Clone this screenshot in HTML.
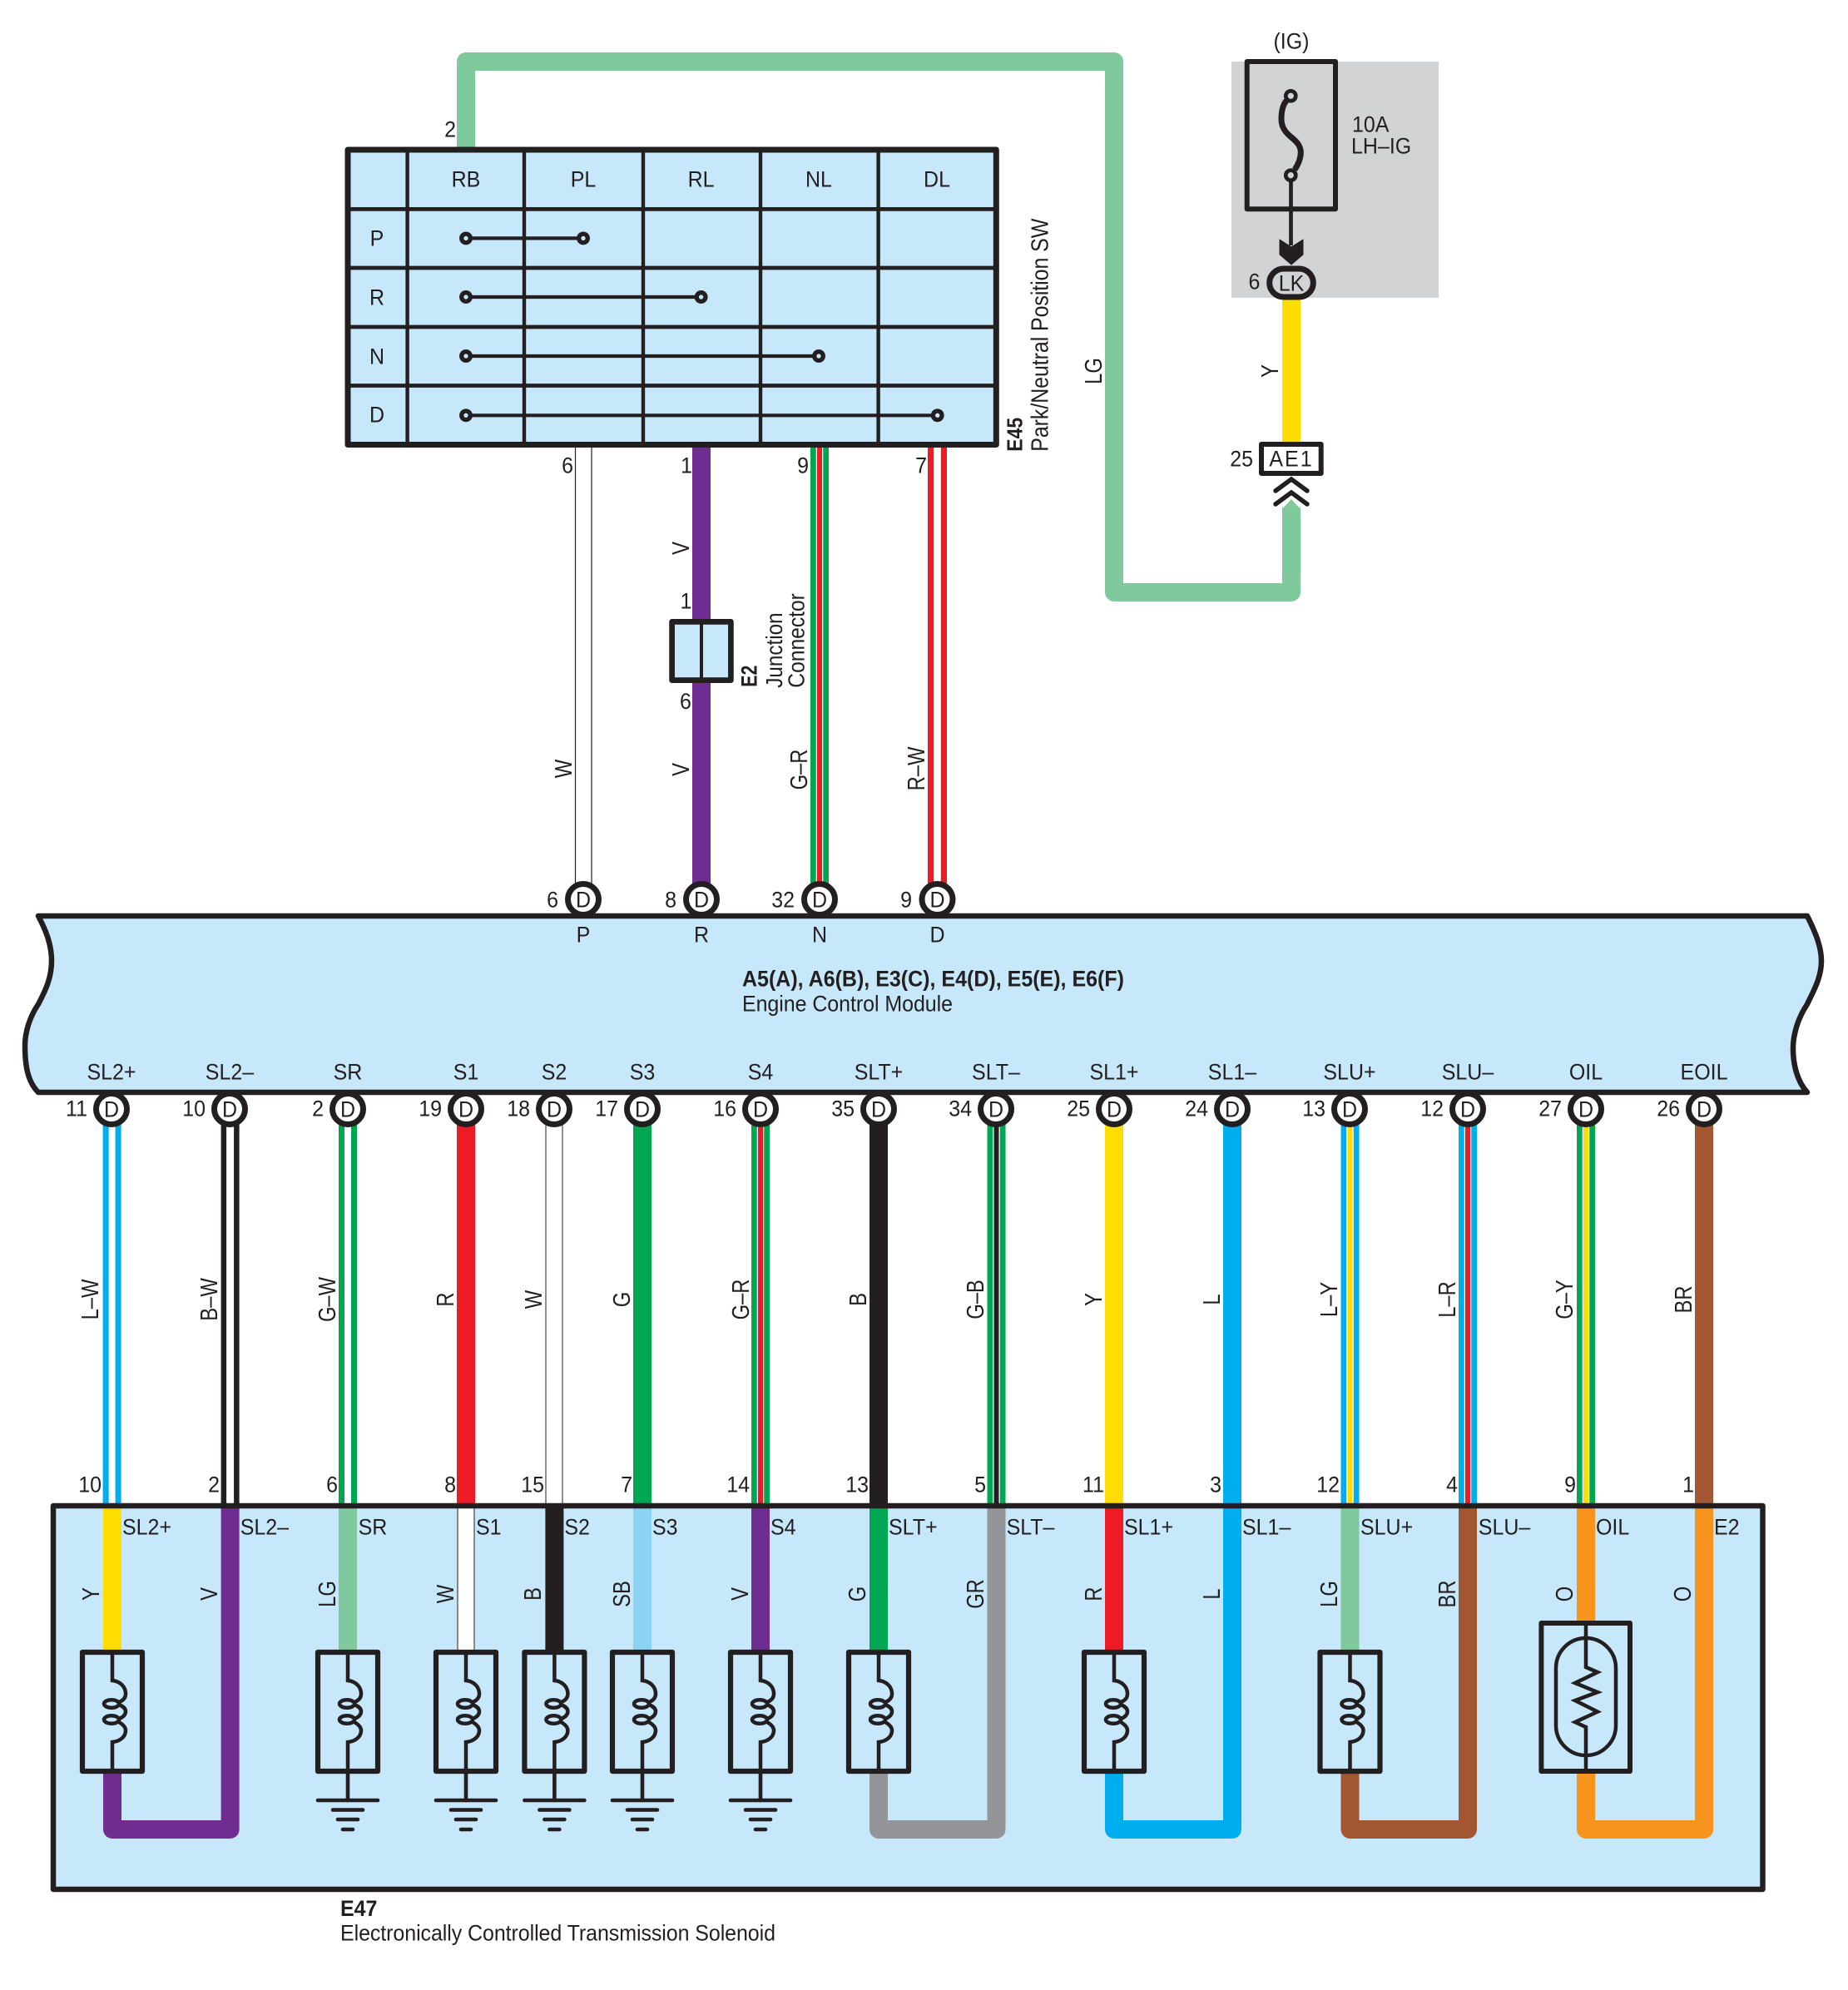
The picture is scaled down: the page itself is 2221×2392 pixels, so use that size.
<!DOCTYPE html>
<html><head><meta charset="utf-8"><style>
html,body{margin:0;padding:0;background:#fff}
svg{display:block}
text{font-family:"Liberation Sans",sans-serif;font-size:25px;fill:#231f20}
text:not([transform]){transform-box:fill-box;transform-origin:50% 50%;transform:scaleY(1.07)}
.m{text-anchor:middle}.e{text-anchor:end}.b{font-weight:bold}
.k{fill:none;stroke:#231f20}
</style></head><body>
<svg xmlns="http://www.w3.org/2000/svg" width="2221" height="2392" viewBox="0 0 2221 2392">
<defs>
<path id="mw" d="M0 1350V1810"/>
<g id="sol">
<rect x="-36" y="0" width="72" height="143" fill="#c7e7fa" stroke="#231f20" stroke-width="6.2" stroke-linejoin="round"/>
<g fill="none" stroke="#231f20" stroke-width="4.5">
<path d="M0 0V34C10 35 16 42 16 50C16 55 13 58 8 60"/>
<ellipse cx="-1" cy="62" rx="9" ry="4.7"/>
<path d="M8 63C13 65 16 68 16 71C16 75 13 78 8 80"/>
<ellipse cx="-1" cy="81" rx="9" ry="4.7"/>
<path d="M8 84C13 87 16 90 16 94C16 101 10 107 0 108V143"/>
</g></g>
<g id="gnd" fill="none" stroke="#231f20" stroke-width="4.6" stroke-linecap="round">
<path d="M0 0V32"/><path d="M-36 32H36"/><path d="M-18 43.5H18"/><path d="M-12 55H12"/><path d="M-6 67H6"/>
</g>
<g id="cir"><circle cx="0" cy="0" r="18.5" fill="#fff" stroke="#231f20" stroke-width="7"/><text class="m" y="9">D</text></g>
<g id="dot"><circle r="5.3" fill="#c7e7fa" stroke="#231f20" stroke-width="5.3"/></g>
</defs>

<!-- LG top wire -->
<path d="M560 180V74H1339V712H1552V610" fill="none" stroke="#80c99c" stroke-width="22" stroke-linejoin="round"/>
<polygon points="1541,612 1552,600 1563,612" fill="#80c99c"/>

<!-- fuse block -->
<rect x="1480" y="74" width="249" height="284" fill="#d1d3d4"/>
<rect x="1498.7" y="74" width="106.3" height="177.3" fill="none" stroke="#231f20" stroke-width="6" stroke-linejoin="round"/>
<path d="M1546 121C1541 127 1540 135 1540 143C1540 154 1546 160 1552 165C1558 170 1563.3 175 1563.3 183C1563.3 191 1560 198 1556 204" class="k" stroke-width="7"/>
<circle cx="1551.3" cy="115.3" r="6" fill="#d1d3d4" stroke="#231f20" stroke-width="4.7"/>
<circle cx="1551.3" cy="210.7" r="6" fill="#d1d3d4" stroke="#231f20" stroke-width="4.7"/>
<path d="M1551.5 216V295" class="k" stroke-width="4.7"/>
<polygon points="1538,288 1552,297 1566,288 1566,306 1552,318 1538,306" fill="#231f20" stroke="#231f20" stroke-width="1" stroke-linejoin="round"/>
<rect x="1541" y="358" width="22" height="176" fill="#ffdd00"/>
<rect x="1525.7" y="323" width="52.6" height="34" rx="17" ry="17" fill="#d1d3d4" stroke="#231f20" stroke-width="7"/>
<text class="m" x="1552" y="349">LK</text>
<rect x="1516" y="534" width="71.7" height="35" fill="#fff" stroke="#231f20" stroke-width="6" stroke-linejoin="round"/>
<text class="m" x="1552" y="560" letter-spacing="2">AE1</text>
<path d="M1533 590L1552 576L1571 590" fill="none" stroke="#231f20" stroke-width="5.5" stroke-linecap="round"/>
<path d="M1533 606L1552 592L1571 606" fill="none" stroke="#231f20" stroke-width="5.5" stroke-linecap="round"/>
<text class="m" x="1552" y="58">(IG)</text>
<text x="1625" y="158">10A</text>
<text x="1624" y="184">LH–IG</text>
<text class="m" x="1507.5" y="347">6</text>
<text class="e" x="1506" y="560">25</text>
<text class="m" transform="translate(1314,446) rotate(-90) scale(.95,1.13)" y="9">LG</text>
<text class="m" transform="translate(1526,446) rotate(-90) scale(.95,1.13)" y="9">Y</text>

<!-- wires table to ECU -->
<path d="M691.5 537V1062M711 537V1062" fill="none" stroke="#231f20" stroke-width="1.2"/>
<path d="M843 537V1062" fill="none" stroke="#6f2c91" stroke-width="22"/>
<path d="M985 537V1062" fill="none" stroke="#00a651" stroke-width="22"/>
<path d="M985 537V1062" fill="none" stroke="#fff" stroke-width="8.5"/>
<path d="M985 537V1062" fill="none" stroke="#ed1c24" stroke-width="6"/>
<path d="M1126.5 537V1062" fill="none" stroke="#ed1c24" stroke-width="23"/>
<path d="M1126.5 537V1062" fill="none" stroke="#fff" stroke-width="8.6"/>

<!-- shift table -->
<rect x="418" y="180" width="779.3" height="354.5" fill="#c7e7fa"/>
<path d="M418 251.4H1197M418 322H1197M418 393H1197M418 463.5H1197" class="k" stroke-width="4.8"/>
<path d="M489.6 180V534M630 180V534M773 180V534M914 180V534M1055.6 180V534" class="k" stroke-width="4.4"/>
<rect x="418" y="180" width="779.3" height="354.5" class="k" stroke-width="7" stroke-linejoin="round"/>
<path d="M560 286.4H701M560 357H842.6M560 428H984M560 499.3H1126.7" class="k" stroke-width="4.2"/>
<use href="#dot" x="560" y="286.4"/><use href="#dot" x="701" y="286.4"/>
<use href="#dot" x="560" y="357"/><use href="#dot" x="842.6" y="357"/>
<use href="#dot" x="560" y="428"/><use href="#dot" x="984" y="428"/>
<use href="#dot" x="560" y="499.3"/><use href="#dot" x="1126.7" y="499.3"/>
<text class="m" x="560" y="224">RB</text><text class="m" x="701" y="224">PL</text><text class="m" x="842.6" y="224">RL</text><text class="m" x="984" y="224">NL</text><text class="m" x="1126" y="224">DL</text>
<text class="m" x="453" y="295">P</text><text class="m" x="453" y="366">R</text><text class="m" x="453" y="437">N</text><text class="m" x="453" y="507">D</text>
<text class="e" x="548" y="164">2</text>
<text class="e" x="689" y="568">6</text><text class="e" x="832" y="568">1</text><text class="e" x="972" y="568">9</text><text class="e" x="1114" y="568">7</text>
<text class="b" transform="translate(1228.3,542.7) rotate(-90) scale(.92,1.05)">E45</text>
<text transform="translate(1259.3,542.7) rotate(-90) scale(1,1.13)" textLength="280">Park/Neutral Position SW</text>

<!-- E2 junction -->
<rect x="807.6" y="747.4" width="70.8" height="70.2" fill="#c7e7fa" stroke="#231f20" stroke-width="6.7" stroke-linejoin="round"/>
<path d="M843 747V817" class="k" stroke-width="4"/>
<text class="m" x="824.5" y="731">1</text><text class="m" x="824" y="851.5">6</text>
<text class="b" transform="translate(909.3,825.7) rotate(-90) scale(.85,1.06)">E2</text>
<text transform="translate(940,826.7) rotate(-90) scale(.97,1.12)">Junction</text>
<text transform="translate(966.7,826.7) rotate(-90) scale(.985,1.12)">Connector</text>
<text class="m" transform="translate(818,659) rotate(-90) scale(.95,1.13)" y="9">V</text>
<text class="m" transform="translate(818,925) rotate(-90) scale(.95,1.13)" y="9">V</text>
<text class="m" transform="translate(677,924) rotate(-90) scale(.95,1.13)" y="9">W</text>
<text class="m" transform="translate(960,925) rotate(-90) scale(.95,1.13)" y="9">G–R</text>
<text class="m" transform="translate(1101,924) rotate(-90) scale(.95,1.13)" y="9">R–W</text>

<!-- ECU -->
<path d="M46 1101H2172C2184 1125 2189 1140 2189 1155C2189 1175 2180 1190 2172 1207C2160 1225 2155 1245 2155 1260C2155 1280 2160 1300 2172 1313H46C33 1300 30 1280 30 1257C30 1240 36 1222 46 1207C55 1190 62 1175 62 1155C62 1135 55 1118 46 1101Z" fill="#c7e7fa" stroke="#231f20" stroke-width="6.5" stroke-linejoin="round"/>
<use href="#cir" x="701" y="1081"/><use href="#cir" x="843" y="1081"/><use href="#cir" x="985" y="1081"/><use href="#cir" x="1126.5" y="1081"/>
<text class="e" x="671" y="1090">6</text><text class="e" x="813" y="1090">8</text><text class="e" x="955" y="1090">32</text><text class="e" x="1096" y="1090">9</text>
<text class="m" x="701" y="1132">P</text><text class="m" x="843" y="1132">R</text><text class="m" x="985" y="1132">N</text><text class="m" x="1126.5" y="1132">D</text>
<text class="b" x="892" y="1185" textLength="459">A5(A), A6(B), E3(C), E4(D), E5(E), E6(F)</text>
<text x="892" y="1215" textLength="253">Engine Control Module</text>
<g>
<text class="m" x="134" y="1297">SL2+</text><text class="m" x="276" y="1297">SL2–</text><text class="m" x="418" y="1297">SR</text><text class="m" x="560" y="1297">S1</text><text class="m" x="666" y="1297">S2</text><text class="m" x="772" y="1297">S3</text><text class="m" x="914" y="1297">S4</text><text class="m" x="1056" y="1297">SLT+</text><text class="m" x="1197" y="1297">SLT–</text><text class="m" x="1339" y="1297">SL1+</text><text class="m" x="1481" y="1297">SL1–</text><text class="m" x="1622" y="1297">SLU+</text><text class="m" x="1764" y="1297">SLU–</text><text class="m" x="1906" y="1297">OIL</text><text class="m" x="2048" y="1297">EOIL</text>
</g>

<!-- middle wires -->
<g fill="none">
<use href="#mw" x="134.6" stroke="#00aeef" stroke-width="22"/><use href="#mw" x="134.6" stroke="#fff" stroke-width="8"/>
<use href="#mw" x="276.6" stroke="#231f20" stroke-width="22"/><use href="#mw" x="276.6" stroke="#fff" stroke-width="9"/>
<use href="#mw" x="418" stroke="#00a651" stroke-width="22"/><use href="#mw" x="418" stroke="#fff" stroke-width="8"/>
<use href="#mw" x="560" stroke="#ed1c24" stroke-width="22"/>
<use href="#mw" x="666" stroke="#231f20" stroke-width="21"/><use href="#mw" x="666" stroke="#fff" stroke-width="19"/>
<use href="#mw" x="772" stroke="#00a651" stroke-width="22"/>
<use href="#mw" x="914" stroke="#00a651" stroke-width="22"/><use href="#mw" x="914" stroke="#fff" stroke-width="8.5"/><use href="#mw" x="914" stroke="#ed1c24" stroke-width="6"/>
<use href="#mw" x="1056" stroke="#231f20" stroke-width="22"/>
<use href="#mw" x="1197.5" stroke="#00a651" stroke-width="22"/><use href="#mw" x="1197.5" stroke="#fff" stroke-width="8.5"/><use href="#mw" x="1197.5" stroke="#231f20" stroke-width="6"/>
<use href="#mw" x="1339" stroke="#ffdd00" stroke-width="22"/>
<use href="#mw" x="1481" stroke="#00aeef" stroke-width="22"/>
<use href="#mw" x="1622.5" stroke="#00aeef" stroke-width="22"/><use href="#mw" x="1622.5" stroke="#fff" stroke-width="8.5"/><use href="#mw" x="1622.5" stroke="#ffdd00" stroke-width="6"/>
<use href="#mw" x="1764" stroke="#00aeef" stroke-width="22"/><use href="#mw" x="1764" stroke="#fff" stroke-width="8.5"/><use href="#mw" x="1764" stroke="#ed1c24" stroke-width="6"/>
<use href="#mw" x="1906" stroke="#00a651" stroke-width="22"/><use href="#mw" x="1906" stroke="#fff" stroke-width="8.5"/><use href="#mw" x="1906" stroke="#ffdd00" stroke-width="6"/>
<use href="#mw" x="2048" stroke="#a35632" stroke-width="22"/>
</g>

<!-- bottom ECU connectors -->
<use href="#cir" x="134" y="1333"/><use href="#cir" x="276" y="1333"/><use href="#cir" x="418" y="1333"/><use href="#cir" x="560" y="1333"/><use href="#cir" x="666" y="1333"/><use href="#cir" x="772" y="1333"/><use href="#cir" x="914" y="1333"/><use href="#cir" x="1056" y="1333"/><use href="#cir" x="1197" y="1333"/><use href="#cir" x="1339" y="1333"/><use href="#cir" x="1481" y="1333"/><use href="#cir" x="1622" y="1333"/><use href="#cir" x="1764" y="1333"/><use href="#cir" x="1906" y="1333"/><use href="#cir" x="2048" y="1333"/>
<text class="e" x="105" y="1341">11</text><text class="e" x="247" y="1341">10</text><text class="e" x="389" y="1341">2</text><text class="e" x="531" y="1341">19</text><text class="e" x="637" y="1341">18</text><text class="e" x="743" y="1341">17</text><text class="e" x="885" y="1341">16</text><text class="e" x="1027" y="1341">35</text><text class="e" x="1168" y="1341">34</text><text class="e" x="1310" y="1341">25</text><text class="e" x="1452" y="1341">24</text><text class="e" x="1593" y="1341">13</text><text class="e" x="1735" y="1341">12</text><text class="e" x="1877" y="1341">27</text><text class="e" x="2019" y="1341">26</text>

<!-- middle labels -->
<g>
<text class="m" transform="translate(108,1562) rotate(-90) scale(.95,1.13)" y="9">L–W</text>
<text class="m" transform="translate(251,1562) rotate(-90) scale(.95,1.13)" y="9">B–W</text>
<text class="m" transform="translate(393,1562) rotate(-90) scale(.95,1.13)" y="9">G–W</text>
<text class="m" transform="translate(534.6,1562) rotate(-90) scale(.95,1.13)" y="9">R</text>
<text class="m" transform="translate(641,1562) rotate(-90) scale(.95,1.13)" y="9">W</text>
<text class="m" transform="translate(747,1562) rotate(-90) scale(.95,1.13)" y="9">G</text>
<text class="m" transform="translate(890,1562) rotate(-90) scale(.95,1.13)" y="9">G–R</text>
<text class="m" transform="translate(1031,1562) rotate(-90) scale(.95,1.13)" y="9">B</text>
<text class="m" transform="translate(1172,1562) rotate(-90) scale(.95,1.13)" y="9">G–B</text>
<text class="m" transform="translate(1314,1562) rotate(-90) scale(.95,1.13)" y="9">Y</text>
<text class="m" transform="translate(1456,1562) rotate(-90) scale(.95,1.13)" y="9">L</text>
<text class="m" transform="translate(1597,1562) rotate(-90) scale(.95,1.13)" y="9">L–Y</text>
<text class="m" transform="translate(1739,1562) rotate(-90) scale(.95,1.13)" y="9">L–R</text>
<text class="m" transform="translate(1880,1562) rotate(-90) scale(.95,1.13)" y="9">G–Y</text>
<text class="m" transform="translate(2023,1562) rotate(-90) scale(.95,1.13)" y="9">BR</text>
</g>
<text class="e" x="122" y="1793">10</text><text class="e" x="264" y="1793">2</text><text class="e" x="406" y="1793">6</text><text class="e" x="548" y="1793">8</text><text class="e" x="654" y="1793">15</text><text class="e" x="760" y="1793">7</text><text class="e" x="901" y="1793">14</text><text class="e" x="1044" y="1793">13</text><text class="e" x="1185" y="1793">5</text><text class="e" x="1327" y="1793">11</text><text class="e" x="1468" y="1793">3</text><text class="e" x="1610" y="1793">12</text><text class="e" x="1752" y="1793">4</text><text class="e" x="1894" y="1793">9</text><text class="e" x="2036" y="1793">1</text>

<!-- solenoid box -->
<rect x="64" y="1810" width="2054.5" height="461" fill="#c7e7fa"/>
<g fill="none" stroke-width="22" stroke-linejoin="round">
<path d="M135 1810V1990" stroke="#ffdd00"/>
<path d="M135 2125V2199H276.6V1810" stroke="#6f2c91"/>
<path d="M418 1810V1990" stroke="#80c99c"/>
<path d="M560 1810V1990" stroke="#231f20" stroke-width="21"/>
<path d="M560 1810V1990" stroke="#fff" stroke-width="19"/>
<path d="M666.4 1810V1990" stroke="#231f20"/>
<path d="M772 1810V1990" stroke="#8ad3f4"/>
<path d="M914 1810V1990" stroke="#6f2c91"/>
<path d="M1056 1810V1990" stroke="#00a651"/>
<path d="M1056 2125V2199H1197.5V1810" stroke="#939598"/>
<path d="M1339 1810V1990" stroke="#ed1c24"/>
<path d="M1339 2125V2199H1481V1810" stroke="#00aeef"/>
<path d="M1622.5 1810V1990" stroke="#80c99c"/>
<path d="M1622.5 2125V2199H1764V1810" stroke="#a35632"/>
<path d="M1906 1810V1955" stroke="#f7941d"/>
<path d="M1906 2125V2199H2048V1810" stroke="#f7941d"/>
</g>
<rect x="64" y="1810" width="2054.5" height="461" class="k" stroke-width="6.5" stroke-linejoin="round"/>

<use href="#sol" x="135" y="1986"/><use href="#sol" x="418" y="1986"/><use href="#sol" x="560" y="1986"/><use href="#sol" x="666.4" y="1986"/><use href="#sol" x="772" y="1986"/><use href="#sol" x="914" y="1986"/><use href="#sol" x="1056" y="1986"/><use href="#sol" x="1339" y="1986"/><use href="#sol" x="1622.5" y="1986"/>
<use href="#gnd" x="418" y="2132"/><use href="#gnd" x="560" y="2132"/><use href="#gnd" x="666.4" y="2132"/><use href="#gnd" x="772" y="2132"/><use href="#gnd" x="914" y="2132"/>

<!-- thermistor -->
<rect x="1852.4" y="1951" width="106.6" height="178" fill="#c7e7fa" stroke="#231f20" stroke-width="6" stroke-linejoin="round"/>
<rect x="1870" y="1969" width="72" height="141" rx="36" ry="36" class="k" stroke-width="4.5"/>
<path d="M1906 1951V2004L1920 2010L1893 2023L1920 2034L1893 2044L1920 2057.5L1893 2070L1906 2076V2129" class="k" stroke-width="4.5"/>

<!-- box labels -->
<text x="147" y="1844">SL2+</text><text x="288.7" y="1844">SL2–</text><text x="430.6" y="1844">SR</text><text x="572" y="1844">S1</text><text x="678.4" y="1844">S2</text><text x="784" y="1844">S3</text><text x="926" y="1844">S4</text><text x="1068" y="1844">SLT+</text><text x="1209.6" y="1844">SLT–</text><text x="1351" y="1844">SL1+</text><text x="1493" y="1844">SL1–</text><text x="1635" y="1844">SLU+</text><text x="1776.8" y="1844">SLU–</text><text x="1918" y="1844">OIL</text><text x="2060" y="1844">E2</text>
<g>
<text class="m" transform="translate(109,1916) rotate(-90) scale(.95,1.13)" y="9">Y</text>
<text class="m" transform="translate(250.7,1916) rotate(-90) scale(.95,1.13)" y="9">V</text>
<text class="m" transform="translate(392.7,1916) rotate(-90) scale(.95,1.13)" y="9">LG</text>
<text class="m" transform="translate(534.6,1916) rotate(-90) scale(.95,1.13)" y="9">W</text>
<text class="m" transform="translate(640,1916) rotate(-90) scale(.95,1.13)" y="9">B</text>
<text class="m" transform="translate(747,1916) rotate(-90) scale(.95,1.13)" y="9">SB</text>
<text class="m" transform="translate(889,1916) rotate(-90) scale(.95,1.13)" y="9">V</text>
<text class="m" transform="translate(1030,1916) rotate(-90) scale(.95,1.13)" y="9">G</text>
<text class="m" transform="translate(1172,1916) rotate(-90) scale(.95,1.13)" y="9">GR</text>
<text class="m" transform="translate(1314,1916) rotate(-90) scale(.95,1.13)" y="9">R</text>
<text class="m" transform="translate(1456,1916) rotate(-90) scale(.95,1.13)" y="9">L</text>
<text class="m" transform="translate(1597,1916) rotate(-90) scale(.95,1.13)" y="9">LG</text>
<text class="m" transform="translate(1739,1916) rotate(-90) scale(.95,1.13)" y="9">BR</text>
<text class="m" transform="translate(1880,1916) rotate(-90) scale(.95,1.13)" y="9">O</text>
<text class="m" transform="translate(2022,1916) rotate(-90) scale(.95,1.13)" y="9">O</text>
</g>
<text class="b" x="409" y="2302.5">E47</text>
<text x="409" y="2332" textLength="523">Electronically Controlled Transmission Solenoid</text>
</svg>
</body></html>
